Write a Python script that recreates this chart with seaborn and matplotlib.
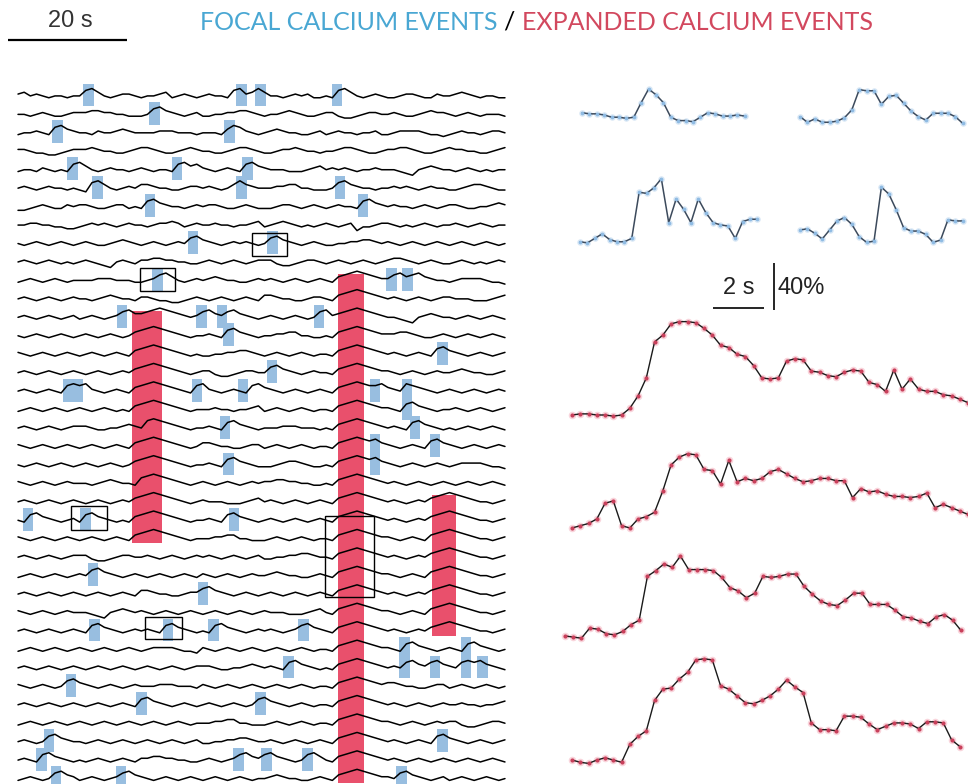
import numpy as np
import pandas as pd
import matplotlib
matplotlib.use("Agg")
import matplotlib.pyplot as plt
import seaborn as sns
from matplotlib.patches import Rectangle

# ------------------------------------------------------------------ data
# Left raster: 38 cells; each trace coded as digit levels, one digit per frame
FRAME_S = 1.036            # seconds per frame
LEVEL_STEP = 0.1           # trace height per level (cell-spacing units)

CELL_TRACES = [
    "5645434434 4786434554 3445634543 4544378568 6443454533 4378643454 3345543354 4565434433",
    "4434543345 5566554433 3478654345 3344556654 3445654334 5532234554 4543345655 4345434443",
    "3445437865 4435445654 4445554443 4443687543 4565443345 3454434453 3455554332 3454434554",
    "5543322345 5565443345 6654334565 4433456654 3345565443 4456654334 5566543345 6554433456",
    "3443543437 8643454434 5434437867 5434543786 5444333456 4545434454 4432145654 4345434344",
    "4543454434 3278643454 6654433455 4543468654 4455664433 3478654434 4545434544 3345665433",
    "2234543354 5543345534 3786544345 4554334543 3345543454 3454437865 4544345434 5543344565",
    "4455443322 3454543454 4345565345 4454434456 3456543434 5434513345 5434345434 4543454344",
    "4345434543 4543345654 3454345478 6543454543 4786543454 3344556654 5434543454 3454345434",
    "4543454343 4543214543 5566554433 4543454345 5532234554 3454345434 5665434543 3454343454",
    "3454345434 4445554443 3457864345 4565443345 4543454345 4367898765 5786786544 3455554332",
    "4543454345 4434565443 5543322345 4345434543 6654433455 4367898765 4543454345 5444333456",
    "4543454345 3454345786 6789876545 7865786543 4543454347 8567898765 4432145654 4345434543",
    "4345434543 4543454346 7898765434 4543786543 4455664433 4367898765 5566543345 4345434543",
    "5434543454 3454345436 7898765434 3344556654 3454345434 4367898765 4543454378 6543454345",
    "4543454345 4345434546 7898765434 5532234554 4786543454 4367898765 5434543454 4565443345",
    "4543454378 7854345436 7898765437 8543454378 6543454345 4367898778 6548765434 5434543454",
    "3454345434 5434543436 7898765434 4454434456 3454345434 4367898765 5437865434 4543454345",
    "4543454345 5543344565 4898765434 4543786543 4445554443 4367898765 4543786543 4345434543",
    "5434543454 3454345436 7898765434 6654433455 3454345434 4367898786 5434543786 5434543454",
    "4345434543 4543454346 7898765434 4543786543 3345665433 4367898786 5434543454 3455554332",
    "5434543454 4434565443 7898765434 5434543454 5566554433 4367898765 4543454345 4345434543",
    "4543454345 4345434546 7898765434 5444333456 4543454345 4367898765 4543454678 9876544345",
    "4378654345 3786543436 7898765434 4543786543 4543454345 4367898765 4543454678 9876544345",
    "5434543454 3454345436 7898765434 4455664433 3454345434 4367898765 5434543678 9876544345",
    "4543454345 5532234554 4543454345 4543454345 3344556654 4367898765 4543454678 9876544345",
    "3454345434 5478654345 4345434543 5434543454 4565443345 4367898765 5434543678 9876544345",
    "4543454345 4345434543 6654433455 7865434543 4543454345 4367898765 4543454678 9876544345",
    "5434543454 4432145654 5434543454 3454345434 5444333456 4367898765 5434543678 9876544345",
    "4543454345 4378654345 4543786543 4378654345 4543457865 4367898765 4543454678 9876544345",
    "3454345434 5434543454 3455554332 5434543454 3454345434 4367898765 5437865434 5437865434",
    "4543454345 4345434543 4543454345 5543344565 4543786543 4367898765 4547865786 5478786543",
    "5434543478 6543454345 4445554443 5434543454 3454345434 4367898765 6654433455 3454345434",
    "4543454345 4345434543 7865434543 4543454347 8654345434 4367898765 4543454345 4454434456",
    "3454345434 5434543454 3454345434 4455664433 3454345434 4367898765 5434543454 5532234554",
    "4543478654 4345434543 4543454345 3344556654 4543454345 4367898765 4543454378 6543454345",
    "4543786543 4345434543 5566554433 4543457865 7865434786 4367898765 4543454345 4345434543",
    "3454347865 3454345786 5434543454 3454345434 4565443345 4367898765 5478654345 3454345434",
]

# focal calcium events: time (s), first cell, last cell
FOCAL_T = [11.8, 37.6, 40.7, 53.6, 23.0, 6.6, 35.6, 9.2, 26.7, 38.6, 13.4, 37.6, 54.1,
           22.2, 58.0, 29.4, 42.8, 23.4, 62.8, 65.5, 17.5, 30.9, 34.3, 50.6, 35.4, 71.4,
           42.7, 8.4, 10.1, 30.1, 37.8, 60.0, 65.4, 34.8, 66.7, 60.0, 70.1, 35.4, 1.7,
           11.4, 36.3, 12.6, 31.1, 12.9, 25.2, 32.9, 48.0, 65.0, 75.3, 45.5, 70.1, 78.1,
           8.9, 20.8, 40.8, 5.2, 71.4, 3.9, 37.1, 41.8, 48.6, 6.4, 17.3, 64.5]
FOCAL_FIRST = [0, 0, 0, 0, 1, 2, 2, 4, 4, 4, 5, 5, 5, 6, 6, 8, 8, 10, 10, 10, 12, 12, 12, 12,
               13, 14, 15, 16, 16, 16, 16, 16, 16, 18, 18, 19, 19, 20, 23, 23, 23, 26, 27,
               29, 29, 29, 29, 30, 30, 31, 31, 31, 32, 33, 33, 35, 35, 36, 36, 36, 36, 37, 37, 37]
FOCAL_LAST = [0, 0, 0, 0, 1, 2, 2, 4, 4, 4, 5, 5, 5, 6, 6, 8, 8, 10, 10, 10, 12, 12, 12, 12,
              13, 14, 15, 16, 16, 16, 16, 16, 17, 18, 18, 20, 19, 20, 23, 23, 23, 26, 27,
              29, 29, 29, 29, 31, 31, 31, 31, 31, 32, 33, 33, 35, 35, 36, 36, 36, 36, 37, 37, 37]

# expanded calcium events: start / end time (s), first / last cell
EXPANDED_T0 = [19.2, 53.8, 69.6]
EXPANDED_T1 = [24.2, 58.1, 73.6]
EXPANDED_FIRST = [12, 10, 22]
EXPANDED_LAST = [24, 37, 29]

# boxed events (shown enlarged on the right): time span (s), cell span
BOX_T0 = [39.3, 20.5, 8.9, 51.6, 21.3]
BOX_T1 = [45.2, 26.4, 15.0, 59.8, 27.6]
BOX_TOP = [7.5, 9.4, 22.3, 22.8, 28.3]
BOX_BOTTOM = [8.7, 10.6, 23.6, 27.2, 29.5]

# enlarged example traces, dF/F (%)
FOCAL_DT = 0.29
FOCAL_A = [2, 1, 1, 0, -2, -2, -3, -2, 11, 23, 18, 11, -2, -5, -5, -6, -2, 2, 1, -1, -1, 0, -1]
FOCAL_B = [3, -2, 1, -2, -2, -1, 2, 9, 27, 26, 26, 14, 21, 22, 15, 8, 3, 0, 6, 6, 6, 3, -3]
FOCAL_C = [0, -1, 3, 7, 2, 0, 0, 3, 44, 43, 48, 56, 17, 38, 29, 17, 38, 26, 17, 15, 14, 3, 18, 20, 20]
FOCAL_D = [6, 7, 3, -2, 6, 14, 17, 11, 0, -5, -4, 44, 38, 24, 8, 5, 5, 2, -5, -3, 15, 14, 14]

EXPANDED_DT = 0.3235
EXPANDED_E = [0, 1, 1, 0, 0, -1, 0, 6, 17, 33, 65, 71, 81, 83, 83, 82, 77, 71, 62, 60, 54, 52,
              44, 33, 32, 33, 48, 50, 49, 39, 38, 35, 34, 38, 40, 39, 29, 27, 21, 40, 23, 32,
              23, 21, 21, 18, 17, 14, 11]
EXPANDED_F = [0, 2, 4, 8, 22, 24, 2, 0, 8, 10, 14, 33, 56, 63, 66, 65, 52, 51, 39, 60, 41, 44,
              42, 44, 50, 52, 48, 44, 41, 42, 44, 44, 42, 42, 27, 35, 32, 33, 30, 28, 28, 27,
              28, 31, 18, 21, 18, 15, 12]
EXPANDED_G = [0, -1, -2, 7, 6, 2, 1, 4, 10, 14, 53, 58, 64, 61, 71, 59, 59, 59, 58, 52, 43, 40,
              34, 38, 53, 52, 53, 55, 55, 44, 37, 31, 28, 27, 32, 38, 38, 28, 28, 28, 23, 17,
              16, 13, 11, 17, 19, 14, 5]
EXPANDED_H = [0, -2, -3, 0, 2, 0, -2, 14, 21, 26, 53, 63, 64, 72, 78, 89, 90, 89, 66, 63, 57,
              51, 50, 53, 57, 63, 71, 65, 60, 33, 27, 27, 26, 39, 39, 38, 32, 27, 30, 33, 33,
              32, 28, 34, 34, 33, 18, 12]

# ------------------------------------------------------------------ style
sns.set_theme(style="white")
plt.rcParams["font.family"] = ["Liberation Sans", "DejaVu Sans"]

BLUE_TEXT = "#49a7d3"
RED_TEXT = "#d2485e"
BLUE_BOX = "#98bee0"
RED_BAR = "#e9506c"
RED_DOT = "#c8405b"
BLUE_DOT = "#8fbbe3"

W, H = 968, 784
fig = plt.figure(figsize=(W / 100, H / 100), dpi=100)
fig.patch.set_facecolor("white")


def add_ax(x0, y0, x1, y1):
    ax = fig.add_axes([x0 / W, 1 - y1 / H, (x1 - x0) / W, (y1 - y0) / H])
    ax.set_axis_off()
    return ax


# ------------------------------------------------------------------ left raster
S_PER_PX = 20 / 119
ROW_PX = 18.45
axL = add_ax(0, 0, 540, 784)
axL.set_xlim(-18 * S_PER_PX, (540 - 18) * S_PER_PX)
axL.set_ylim(-(784 - 95) / ROW_PX, 95 / ROW_PX)

recs = []
for c, s in enumerate(CELL_TRACES):
    lv = np.array([int(ch) for ch in s.replace(" ", "")], float)
    t = np.arange(lv.size) * FRAME_S
    recs.append(pd.DataFrame({"t": t, "y": -c + (lv - 4.5) * LEVEL_STEP, "cell": c}))
traces = pd.concat(recs, ignore_index=True)

HALF = 0.62
f_first = np.array(FOCAL_FIRST)
f_last = np.array(FOCAL_LAST)
axL.bar(FOCAL_T, (f_last - f_first) + 2 * HALF, bottom=-f_last - HALF, width=1.8,
        color=BLUE_BOX, linewidth=0, zorder=1)

e_t0 = np.array(EXPANDED_T0)
e_t1 = np.array(EXPANDED_T1)
e_first = np.array(EXPANDED_FIRST)
e_last = np.array(EXPANDED_LAST)
axL.bar((e_t0 + e_t1) / 2, (e_last - e_first) + 0.6, bottom=-e_last - 0.3, width=e_t1 - e_t0,
        color=RED_BAR, linewidth=0, zorder=1)

sns.lineplot(data=traces, x="t", y="y", units="cell", estimator=None, sort=False,
             color="black", linewidth=1.1, ax=axL, legend=False, zorder=3)

for t0, t1, top, bot in zip(BOX_T0, BOX_T1, BOX_TOP, BOX_BOTTOM):
    axL.add_patch(Rectangle((t0, -bot), t1 - t0, bot - top, fill=False,
                            edgecolor="black", linewidth=1.0, zorder=4))

axL.set_xlabel("")
axL.set_ylabel("")
# 20 s scale bar
axL.plot([-10 * S_PER_PX, -10 * S_PER_PX + 20], [(95 - 40) / ROW_PX] * 2,
         color="black", lw=1.6, solid_capstyle="butt", clip_on=False)
axL.text(-10 * S_PER_PX + 10.5, (95 - 21) / ROW_PX, "20 s", ha="center", va="center",
         fontsize=17, color="#333333")

# ------------------------------------------------------------------ right examples
S2 = 2 / 51
P2 = 40 / 45
axR = add_ax(555, 60, 968, 784)
axR.set_xlim(0, 413 * S2)
axR.set_ylim(0, 724 * P2)

focal_sets = [(FOCAL_A, 1.06, 594.7), (FOCAL_B, 9.61, 590.2),
              (FOCAL_C, 0.98, 482.0), (FOCAL_D, 9.61, 486.5)]
exp_sets = [(EXPANDED_E, 0.67, 328.0), (EXPANDED_F, 0.67, 227.6),
            (EXPANDED_G, 0.39, 131.6), (EXPANDED_H, 0.67, 21.3)]

fr = []
for k, (vals, t0, base) in enumerate(focal_sets):
    v = np.array(vals, float)
    fr.append(pd.DataFrame({"t": t0 + np.arange(v.size) * FOCAL_DT, "y": base + v, "id": k}))
focal_df = pd.concat(fr, ignore_index=True)

er = []
for k, (vals, t0, base) in enumerate(exp_sets):
    v = np.array(vals, float)
    er.append(pd.DataFrame({"t": t0 + np.arange(v.size) * EXPANDED_DT, "y": base + v, "id": k}))
exp_df = pd.concat(er, ignore_index=True)

sns.scatterplot(data=focal_df, x="t", y="y", color=BLUE_DOT, s=22, alpha=0.35,
                linewidth=0, ax=axR, legend=False, zorder=2)
sns.lineplot(data=focal_df, x="t", y="y", units="id", estimator=None, sort=False,
             color="#3c4a5c", linewidth=1.1, ax=axR, legend=False, zorder=3)
sns.scatterplot(data=focal_df, x="t", y="y", color=BLUE_DOT, s=7, linewidth=0,
                ax=axR, legend=False, zorder=4)

sns.scatterplot(data=exp_df, x="t", y="y", color="#f2a3b3", s=30, alpha=0.45,
                linewidth=0, ax=axR, legend=False, zorder=2)
sns.lineplot(data=exp_df, x="t", y="y", units="id", estimator=None, sort=False,
             color="#1a1a1a", linewidth=1.0, ax=axR, legend=False, zorder=3)
sns.scatterplot(data=exp_df, x="t", y="y", color=RED_DOT, s=9, linewidth=0,
                ax=axR, legend=False, zorder=4)
axR.set_xlabel("")
axR.set_ylabel("")

# 2 s / 40% scale bars
ybar = (784 - 308) * P2
axR.plot([158 * S2, 158 * S2 + 2], [ybar, ybar], color="black", lw=1.2,
         solid_capstyle="butt", clip_on=False)
axR.plot([219 * S2, 219 * S2], [ybar - 2, ybar + 40], color="black", lw=1.2,
         solid_capstyle="butt", clip_on=False)
axR.text(158 * S2 + 1.0, (784 - 288) * P2, "2 s", ha="center", va="center",
         fontsize=17, color="#222222")
axR.text(223 * S2, (784 - 288) * P2, "40%", ha="left", va="center",
         fontsize=17, color="#222222")

# ------------------------------------------------------------------ title
fig.canvas.draw()
rend = fig.canvas.get_renderer()
TITLE_FONT = ["Lato", "Liberation Sans", "DejaVu Sans"]
ty = 1 - 22 / H
t1 = fig.text(200 / W, ty, "FOCAL CALCIUM EVENTS", color=BLUE_TEXT, fontsize=14,
              ha="left", va="center", family=TITLE_FONT)
w1 = t1.get_window_extent(rend).width
fs = 14 * 298 / w1
t1.set_fontsize(fs)
fig.text(509 / W, ty, "/", color="black", fontsize=fs, ha="center", va="center",
         family=TITLE_FONT)
t3 = fig.text(522 / W, ty, "EXPANDED CALCIUM EVENTS", color=RED_TEXT, fontsize=fs,
              ha="left", va="center", family=TITLE_FONT)

fig.savefig("out.png", dpi=100, facecolor="white")
